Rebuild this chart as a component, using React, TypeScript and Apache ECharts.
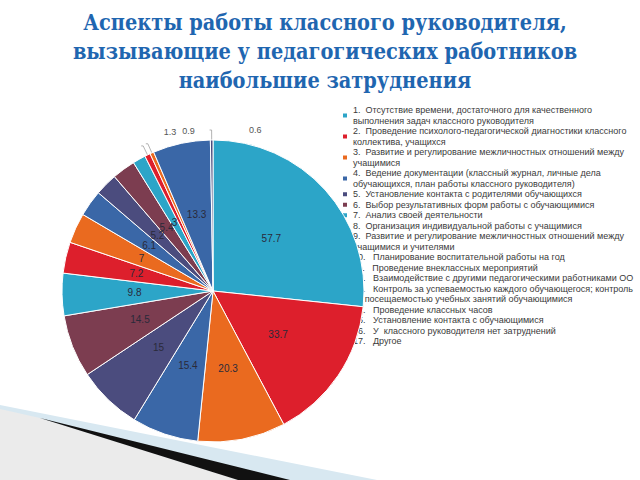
import React, { useEffect, useRef } from "react";
import * as echarts from "echarts";

const titleText =
  "Аспекты работы классного руководителя,\nвызывающие у педагогических работников\nнаибольшие затруднения";

const categories = [
  "1.  Отсутствие времени, достаточного для качественного\nвыполнения задач классного руководителя",
  "2.  Проведение психолого-педагогической диагностики классного\nколлектива, учащихся",
  "3.  Развитие и регулирование межличностных отношений между\nучащимися",
  "4.  Ведение документации (классный журнал, личные дела\nобучающихся, план работы классного руководителя)",
  "5.  Установление контакта с родителями обучающихся",
  "6.  Выбор результативных форм работы с обучающимися",
  "7.  Анализ своей деятельности",
  "8.  Организация индивидуальной работы с учащимися",
  "9.  Развитие и регулирование межличностных отношений между\nучащимися и учителями",
  "10.   Планирование воспитательной работы на год",
  "11.   Проведение внеклассных мероприятий",
  "12.   Взаимодействие с другими педагогическими работниками ОО",
  "13.   Контроль за успеваемостью каждого обучающегося; контроль\nза посещаемостью учебных занятий обучающимися",
  "14.   Проведение классных часов",
  "15.   Установление контакта с обучающимися",
  "16.   У  классного руководителя нет затруднений",
  "17.   Другое",
];

const values = [57.7, 33.7, 20.3, 15.4, 15, 14.5, 9.8, 7.2, 7, 6.1, 5.2, 5.4, 3, 1.3, 0.9, 13.3, 0.6];

const palette = ["#2ca5c8", "#dd1f2c", "#ea6a1f", "#3a67a7", "#4b4c7e", "#7c3d50"];

// small slices whose labels sit outside, with their label offsets
const outsideLabelIdx = [13, 14, 16];
const outsideLabelShift: Record<number, [number, number]> = {
  13: [40, -14],
  14: [54, -13],
  16: [57, 0],
};

export default function App() {
  const ref = useRef<HTMLDivElement>(null);
  useEffect(() => {
    if (!ref.current) return;
    const chart = echarts.init(ref.current, null, { renderer: "svg" });
    const data = values.map((v, i) => {
      const item: any = {
        name: categories[i],
        value: v,
        itemStyle: { color: palette[i % palette.length] },
      };
      if (outsideLabelIdx.includes(i)) {
        item.label = { position: "outside", color: "#555", fontSize: 9 };
        item.labelLine = { show: true, length: 10, length2: 2, lineStyle: { color: "#a0a0a0", width: 0.8 } };
      }
      return item;
    });
    chart.setOption({
      animation: false,
      backgroundColor: "#ffffff",
      title: {
        text: titleText,
        left: 320,
        top: 3,
        textAlign: "center",
        textStyle: {
          fontFamily: "'DejaVu Serif Condensed', 'DejaVu Serif'",
          fontWeight: "bold",
          fontSize: 21.5,
          lineHeight: 29,
          color: "#1f66b0",
        },
      },
      legend: {
        orient: "vertical",
        left: 341,
        top: 105,
        padding: 0,
        itemWidth: 6,
        itemHeight: 6,
        itemGap: 0,
        icon: "rect",
        selectedMode: false,
        z: 1,
        data: categories,
        textStyle: {
          fontFamily: "Liberation Sans",
          fontSize: 9,
          lineHeight: 10.5,
          color: "#3a3a3a",
        },
      },
      graphic: [
        {
          type: "polygon",
          z: 0,
          shape: { points: [[0, 405], [377, 480], [0, 480]] },
          style: { fill: "#d8e8f1" },
        },
        {
          type: "polygon",
          z: 0,
          shape: { points: [[0, 409], [40, 418], [240, 480], [0, 480]] },
          style: { fill: "#ebebeb" },
        },
        {
          type: "polygon",
          z: 0,
          shape: { points: [[40, 418], [290, 480], [238, 480]] },
          style: { fill: "#111111" },
        },
      ],
      series: [
        {
          type: "pie",
          z: 2,
          center: [213, 291],
          radius: 151,
          startAngle: 90,
          clockwise: true,
          avoidLabelOverlap: false,
          itemStyle: { borderColor: "#ffffff", borderWidth: 1 },
          label: {
            show: true,
            position: "inside",
            formatter: "{c}",
            fontFamily: "Liberation Sans",
            fontSize: 10,
            color: "#2a2a3a",
          },
          labelLine: { show: false },
          labelLayout: (params: any) => {
            const s = outsideLabelShift[params.dataIndex];
            if (s) return { dx: s[0], dy: s[1], hideOverlap: false };
            return {};
          },
          emphasis: { disabled: true },
          data,
        },
      ],
    });
    return () => chart.dispose();
  }, []);
  return (
    <div
      ref={ref}
      style={{ position: "fixed", left: 0, top: 0, width: 640, height: 480 }}
    />
  );
}
